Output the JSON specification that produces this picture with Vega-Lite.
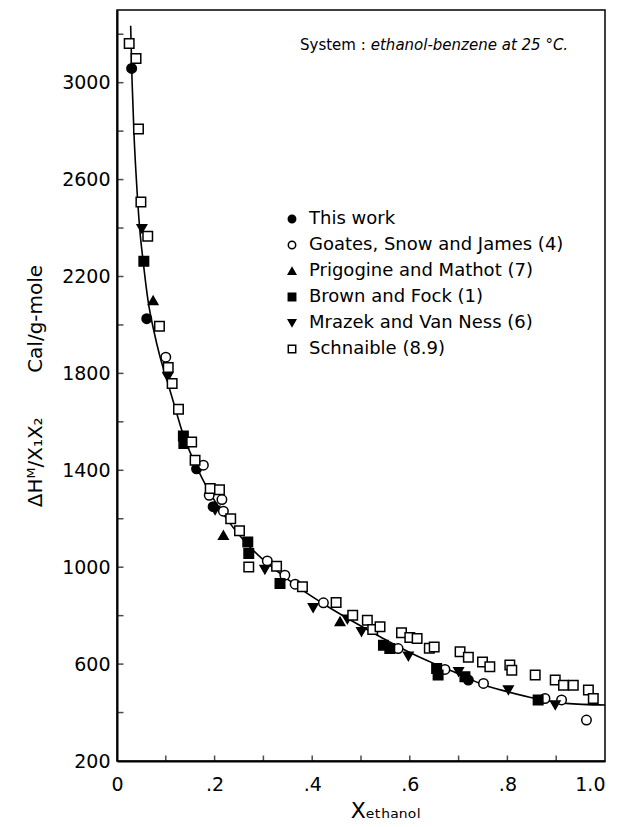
{
  "$schema": "https://vega.github.io/schema/vega-lite/v6.json",
  "width": 488,
  "height": 751,
  "autosize": {"type": "none"},
  "padding": {"left": 117, "top": 10, "right": 13, "bottom": 66},
  "background": "white",
  "config": {
    "font": "DejaVu Sans",
    "view": {"stroke": "black", "strokeWidth": 1.5},
    "axis": {"grid": false, "ticks": false, "domainColor": "black", "domainWidth": 2, "labelColor": "black", "titleColor": "black", "labelFont": "DejaVu Sans", "titleFont": "DejaVu Sans", "titleFontWeight": "normal"}
  },
  "layer": [
    {
      "data": {"values": [
        {"x": 0.028, "y": 3235}, {"x": 0.031, "y": 3000}, {"x": 0.035, "y": 2780}, {"x": 0.040, "y": 2590},
        {"x": 0.046, "y": 2410}, {"x": 0.054, "y": 2255}, {"x": 0.064, "y": 2095}, {"x": 0.075, "y": 1980},
        {"x": 0.088, "y": 1870}, {"x": 0.102, "y": 1775}, {"x": 0.118, "y": 1665}, {"x": 0.136, "y": 1545},
        {"x": 0.155, "y": 1450}, {"x": 0.175, "y": 1365}, {"x": 0.200, "y": 1275}, {"x": 0.230, "y": 1185},
        {"x": 0.260, "y": 1110}, {"x": 0.300, "y": 1030}, {"x": 0.340, "y": 965}, {"x": 0.380, "y": 905},
        {"x": 0.430, "y": 840}, {"x": 0.480, "y": 780}, {"x": 0.540, "y": 712}, {"x": 0.600, "y": 648},
        {"x": 0.650, "y": 602}, {"x": 0.700, "y": 560}, {"x": 0.750, "y": 515}, {"x": 0.800, "y": 486},
        {"x": 0.860, "y": 457}, {"x": 0.920, "y": 438}, {"x": 1.000, "y": 431}
      ]},
      "mark": {"type": "line", "color": "black", "strokeWidth": 1.6, "interpolate": "monotone", "clip": true},
      "encoding": {
        "x": {"field": "x", "type": "quantitative", "scale": {"domain": [0, 1], "nice": false, "zero": false},
          "axis": {
            "values": [0, 0.2, 0.4, 0.6, 0.8, 1.0],
            "labelExpr": "datum.value == 0 ? '0' : (datum.value == 1 ? '1.0' : '.' + round(datum.value*10))",
            "labelAlign": {"condition": {"test": "datum.value == 1", "value": "right"}, "value": "center"},
            "labelPadding": 14, "labelFontSize": 19, "labelFlush": false,
            "title": "Xₑₜₕₐₙₒₗ", "titleFontSize": 22, "titlePadding": 6, "titleX": 268
          }},
        "y": {"field": "y", "type": "quantitative", "scale": {"domain": [200, 3300], "nice": false, "zero": false},
          "axis": {
            "values": [200, 600, 1000, 1400, 1800, 2200, 2600, 3000],
            "format": "d",
            "labelPadding": 7, "labelFontSize": 19, "labelFlush": false,
            "title": "ΔHᴹ/X₁X₂\u00a0\u00a0\u00a0\u00a0\u00a0\u00a0\u00a0Cal/g-mole", "titleFontSize": 20, "titlePadding": 16
          }}
      }
    },
    {
      "data": {"values": [
        {"v": 400}, {"v": 600}, {"v": 800}, {"v": 1000}, {"v": 1200}, {"v": 1400}, {"v": 1600}, {"v": 1800},
        {"v": 2000}, {"v": 2200}, {"v": 2400}, {"v": 2600}, {"v": 2800}, {"v": 3000}, {"v": 3200}
      ]},
      "mark": {"type": "tick", "orient": "horizontal", "color": "black", "thickness": 1.5, "size": 13, "clip": true},
      "encoding": {
        "y": {"field": "v", "type": "quantitative"},
        "x": {"datum": 0, "type": "quantitative"}
      }
    },
    {
      "data": {"values": [
        {"v": 0.1}, {"v": 0.2}, {"v": 0.3}, {"v": 0.4}, {"v": 0.5}, {"v": 0.6}, {"v": 0.7}, {"v": 0.8}, {"v": 0.9}
      ]},
      "mark": {"type": "tick", "orient": "vertical", "color": "black", "thickness": 1.5, "size": 11, "clip": true},
      "encoding": {
        "x": {"field": "v", "type": "quantitative"},
        "y": {"datum": 200, "type": "quantitative"}
      }
    },
    {
      "data": {"values": [
        {"s": "This work", "x": 0.030, "y": 3059}, {"s": "This work", "x": 0.061, "y": 2026}, {"s": "This work", "x": 0.163, "y": 1406}, {"s": "This work", "x": 0.197, "y": 1250}, {"s": "This work", "x": 0.720, "y": 534},
        {"s": "Goates, Snow and James (4)", "x": 0.100, "y": 1867}, {"s": "Goates, Snow and James (4)", "x": 0.177, "y": 1421}, {"s": "Goates, Snow and James (4)", "x": 0.189, "y": 1297}, {"s": "Goates, Snow and James (4)", "x": 0.215, "y": 1279}, {"s": "Goates, Snow and James (4)", "x": 0.218, "y": 1231}, {"s": "Goates, Snow and James (4)", "x": 0.308, "y": 1026}, {"s": "Goates, Snow and James (4)", "x": 0.344, "y": 967}, {"s": "Goates, Snow and James (4)", "x": 0.365, "y": 930}, {"s": "Goates, Snow and James (4)", "x": 0.423, "y": 853}, {"s": "Goates, Snow and James (4)", "x": 0.576, "y": 664}, {"s": "Goates, Snow and James (4)", "x": 0.672, "y": 578}, {"s": "Goates, Snow and James (4)", "x": 0.751, "y": 520}, {"s": "Goates, Snow and James (4)", "x": 0.877, "y": 458}, {"s": "Goates, Snow and James (4)", "x": 0.911, "y": 452}, {"s": "Goates, Snow and James (4)", "x": 0.962, "y": 369},
        {"s": "Prigogine and Mathot (7)", "x": 0.074, "y": 2101}, {"s": "Prigogine and Mathot (7)", "x": 0.218, "y": 1132}, {"s": "Prigogine and Mathot (7)", "x": 0.457, "y": 776},
        {"s": "Brown and Fock (1)", "x": 0.055, "y": 2263}, {"s": "Brown and Fock (1)", "x": 0.136, "y": 1542}, {"s": "Brown and Fock (1)", "x": 0.137, "y": 1511}, {"s": "Brown and Fock (1)", "x": 0.268, "y": 1104}, {"s": "Brown and Fock (1)", "x": 0.270, "y": 1057}, {"s": "Brown and Fock (1)", "x": 0.334, "y": 933}, {"s": "Brown and Fock (1)", "x": 0.546, "y": 678}, {"s": "Brown and Fock (1)", "x": 0.559, "y": 664}, {"s": "Brown and Fock (1)", "x": 0.655, "y": 582}, {"s": "Brown and Fock (1)", "x": 0.658, "y": 555}, {"s": "Brown and Fock (1)", "x": 0.713, "y": 548}, {"s": "Brown and Fock (1)", "x": 0.863, "y": 452},
        {"s": "Mrazek and Van Ness (6)", "x": 0.051, "y": 2397}, {"s": "Mrazek and Van Ness (6)", "x": 0.104, "y": 1785}, {"s": "Mrazek and Van Ness (6)", "x": 0.201, "y": 1235}, {"s": "Mrazek and Van Ness (6)", "x": 0.303, "y": 990}, {"s": "Mrazek and Van Ness (6)", "x": 0.402, "y": 832}, {"s": "Mrazek and Van Ness (6)", "x": 0.472, "y": 785}, {"s": "Mrazek and Van Ness (6)", "x": 0.501, "y": 733}, {"s": "Mrazek and Van Ness (6)", "x": 0.597, "y": 632}, {"s": "Mrazek and Van Ness (6)", "x": 0.700, "y": 568}, {"s": "Mrazek and Van Ness (6)", "x": 0.802, "y": 493}, {"s": "Mrazek and Van Ness (6)", "x": 0.898, "y": 431},
        {"s": "Schnaible (8.9)", "x": 0.025, "y": 3162}, {"s": "Schnaible (8.9)", "x": 0.039, "y": 3100}, {"s": "Schnaible (8.9)", "x": 0.044, "y": 2809}, {"s": "Schnaible (8.9)", "x": 0.049, "y": 2507}, {"s": "Schnaible (8.9)", "x": 0.063, "y": 2366}, {"s": "Schnaible (8.9)", "x": 0.087, "y": 1995}, {"s": "Schnaible (8.9)", "x": 0.105, "y": 1824}, {"s": "Schnaible (8.9)", "x": 0.113, "y": 1758}, {"s": "Schnaible (8.9)", "x": 0.126, "y": 1652}, {"s": "Schnaible (8.9)", "x": 0.153, "y": 1517}, {"s": "Schnaible (8.9)", "x": 0.160, "y": 1441}, {"s": "Schnaible (8.9)", "x": 0.191, "y": 1325}, {"s": "Schnaible (8.9)", "x": 0.210, "y": 1320}, {"s": "Schnaible (8.9)", "x": 0.233, "y": 1200}, {"s": "Schnaible (8.9)", "x": 0.251, "y": 1150}, {"s": "Schnaible (8.9)", "x": 0.270, "y": 1001}, {"s": "Schnaible (8.9)", "x": 0.327, "y": 1004}, {"s": "Schnaible (8.9)", "x": 0.380, "y": 919}, {"s": "Schnaible (8.9)", "x": 0.449, "y": 854}, {"s": "Schnaible (8.9)", "x": 0.483, "y": 802}, {"s": "Schnaible (8.9)", "x": 0.513, "y": 781}, {"s": "Schnaible (8.9)", "x": 0.524, "y": 743}, {"s": "Schnaible (8.9)", "x": 0.539, "y": 754}, {"s": "Schnaible (8.9)", "x": 0.583, "y": 729}, {"s": "Schnaible (8.9)", "x": 0.600, "y": 710}, {"s": "Schnaible (8.9)", "x": 0.615, "y": 706}, {"s": "Schnaible (8.9)", "x": 0.640, "y": 665}, {"s": "Schnaible (8.9)", "x": 0.650, "y": 671}, {"s": "Schnaible (8.9)", "x": 0.703, "y": 651}, {"s": "Schnaible (8.9)", "x": 0.720, "y": 628}, {"s": "Schnaible (8.9)", "x": 0.749, "y": 609}, {"s": "Schnaible (8.9)", "x": 0.764, "y": 589}, {"s": "Schnaible (8.9)", "x": 0.805, "y": 596}, {"s": "Schnaible (8.9)", "x": 0.809, "y": 575}, {"s": "Schnaible (8.9)", "x": 0.857, "y": 555}, {"s": "Schnaible (8.9)", "x": 0.898, "y": 534}, {"s": "Schnaible (8.9)", "x": 0.915, "y": 513}, {"s": "Schnaible (8.9)", "x": 0.935, "y": 513}, {"s": "Schnaible (8.9)", "x": 0.966, "y": 493}, {"s": "Schnaible (8.9)", "x": 0.976, "y": 458}
      ]},
      "mark": {"type": "point", "filled": false, "stroke": "black", "strokeWidth": 1.5, "size": 90, "opacity": 1},
      "encoding": {
        "x": {"field": "x", "type": "quantitative"},
        "y": {"field": "y", "type": "quantitative"},
        "shape": {"field": "s", "type": "nominal",
          "scale": {"domain": ["This work", "Goates, Snow and James (4)", "Prigogine and Mathot (7)", "Brown and Fock (1)", "Mrazek and Van Ness (6)", "Schnaible (8.9)"],
                    "range": ["circle", "circle", "triangle-up", "square", "triangle-down", "square"]},
          "legend": {"title": null, "orient": "none", "legendX": 166, "legendY": 200, "labelFontSize": 18, "labelColor": "black", "labelFont": "DejaVu Sans", "symbolSize": 55, "rowPadding": 8, "labelOffset": 8, "labelLimit": 400,
            "encode": {"symbols": {"update": {"stroke": {"value": "black"}, "strokeWidth": {"value": 1.2}}}}}},
        "fill": {"field": "s", "type": "nominal",
          "scale": {"domain": ["This work", "Goates, Snow and James (4)", "Prigogine and Mathot (7)", "Brown and Fock (1)", "Mrazek and Van Ness (6)", "Schnaible (8.9)"],
                    "range": ["black", "white", "black", "black", "black", "white"]},
          "legend": {"title": null, "orient": "none", "legendX": 166, "legendY": 200, "labelFontSize": 18, "labelColor": "black", "labelFont": "DejaVu Sans", "symbolSize": 55, "rowPadding": 8, "labelOffset": 8, "labelLimit": 400,
            "encode": {"symbols": {"update": {"stroke": {"value": "black"}, "strokeWidth": {"value": 1.2}}}}}}
      }
    },
    {
      "data": {"values": [
        {"x": 0.375, "y": 3157, "t": "System :"}
      ]},
      "mark": {"type": "text", "align": "left", "baseline": "middle", "fontSize": 15, "color": "black"},
      "encoding": {
        "x": {"field": "x", "type": "quantitative"},
        "y": {"field": "y", "type": "quantitative"},
        "text": {"field": "t"}
      }
    },
    {
      "data": {"values": [
        {"x": 0.52, "y": 3157, "t": "ethanol-benzene at 25 °C."}
      ]},
      "mark": {"type": "text", "align": "left", "baseline": "middle", "fontSize": 15, "fontStyle": "italic", "color": "black"},
      "encoding": {
        "x": {"field": "x", "type": "quantitative"},
        "y": {"field": "y", "type": "quantitative"},
        "text": {"field": "t"}
      }
    }
  ]
}
